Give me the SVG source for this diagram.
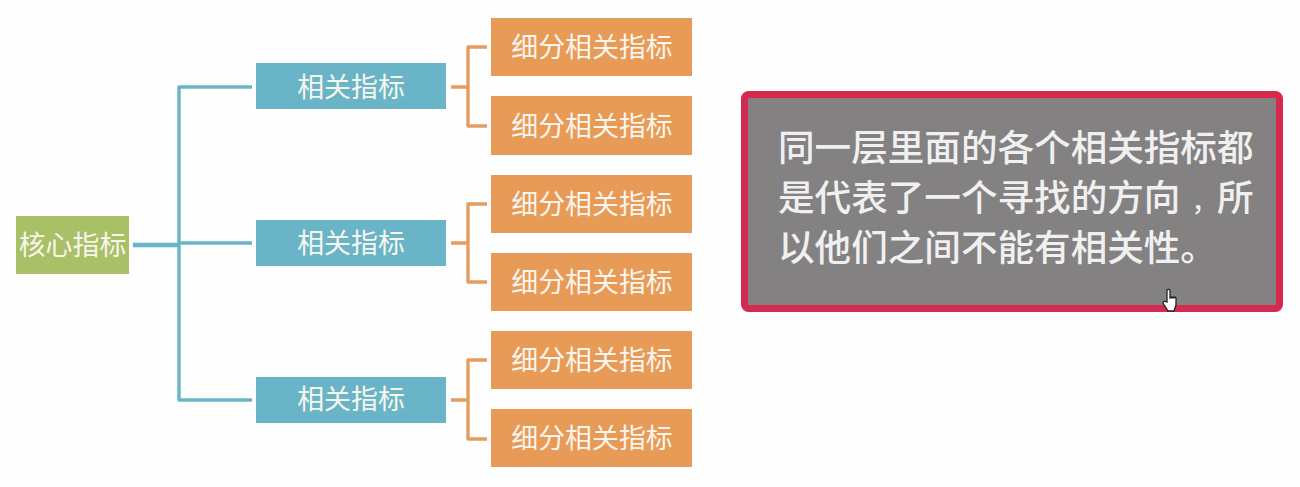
<svg xmlns="http://www.w3.org/2000/svg" width="1300" height="487" viewBox="0 0 1300 487">
<style>
text{font-family:"Noto Sans CJK SC","Liberation Sans",sans-serif}
.n{font-size:26.9px;fill:#f8f5ee;text-anchor:middle;font-weight:400}
.g{fill:#a8c066}.b{fill:#69b5c7}.o{fill:#e89b56}
.c{fill:none;stroke-linejoin:round}
.cb{stroke:#69b5c7;stroke-width:3.4}
.co{stroke:#e59c5f;stroke-width:3.4}
.t{font-size:36.6px;fill:#f0f0f0;font-weight:500}
</style>
<rect width="1300" height="487" fill="#fefefe"/>
<g id="connectors">
<path class="c cb" d="M133 245H178" style="stroke-width:4.5"/>
<path class="c cb" d="M252 87H179V400H252M178 243H252"/>
<path class="c co" d="M451 87H468M487 47H468V126H487"/>
<path class="c co" d="M451 243H468M487 204H468V282H487"/>
<path class="c co" d="M451 400H468M487 360H468V439H487"/>
</g>
<g id="core"><rect class="g" x="16" y="216" width="113" height="58"/><text class="n" x="72.500" y="255">核心指标</text></g>
<g id="rel1"><rect class="b" x="256" y="63" width="190" height="46"/><text class="n" x="351" y="97">相关指标</text></g>
<g id="rel2"><rect class="b" x="256" y="220" width="190" height="46"/><text class="n" x="351" y="253">相关指标</text></g>
<g id="rel3"><rect class="b" x="256" y="377" width="190" height="46"/><text class="n" x="351" y="409">相关指标</text></g>
<g id="sub1"><rect class="o" x="491" y="18" width="201" height="58"/><text class="n" x="592" y="57">细分相关指标</text></g>
<g id="sub2"><rect class="o" x="491" y="96" width="201" height="59"/><text class="n" x="592" y="136">细分相关指标</text></g>
<g id="sub3"><rect class="o" x="491" y="175" width="201" height="58"/><text class="n" x="592" y="214">细分相关指标</text></g>
<g id="sub4"><rect class="o" x="491" y="253" width="201" height="58"/><text class="n" x="592" y="292">细分相关指标</text></g>
<g id="sub5"><rect class="o" x="491" y="331" width="201" height="58"/><text class="n" x="592" y="370">细分相关指标</text></g>
<g id="sub6"><rect class="o" x="491" y="409" width="201" height="58"/><text class="n" x="592" y="448">细分相关指标</text></g>
<g id="callout">
<rect x="744.500" y="94.500" width="535" height="214" rx="4" fill="#838181" stroke="#d5294f" stroke-width="7"/>
<text class="t" x="778" y="160.500">同一层里面的各个相关指标都</text>
<text class="t" x="778" y="210.500">是代表了一个寻找的方向<tspan dx="11" font-size="25">，</tspan><tspan dx="0.600">所</tspan></text>
<text class="t" x="778" y="260.500">以他们之间不能有相关性。</text>
</g>
<path id="cursor" d="M1167 290c1-1 3-1 3 1v7l1-1 1 1 1-1 1 1 1-1 1 1v7l-2 6h-6l-5-8c0-2 2-2 4-1z" fill="#fff" stroke="#222" stroke-width="1.300"/>
</svg>
